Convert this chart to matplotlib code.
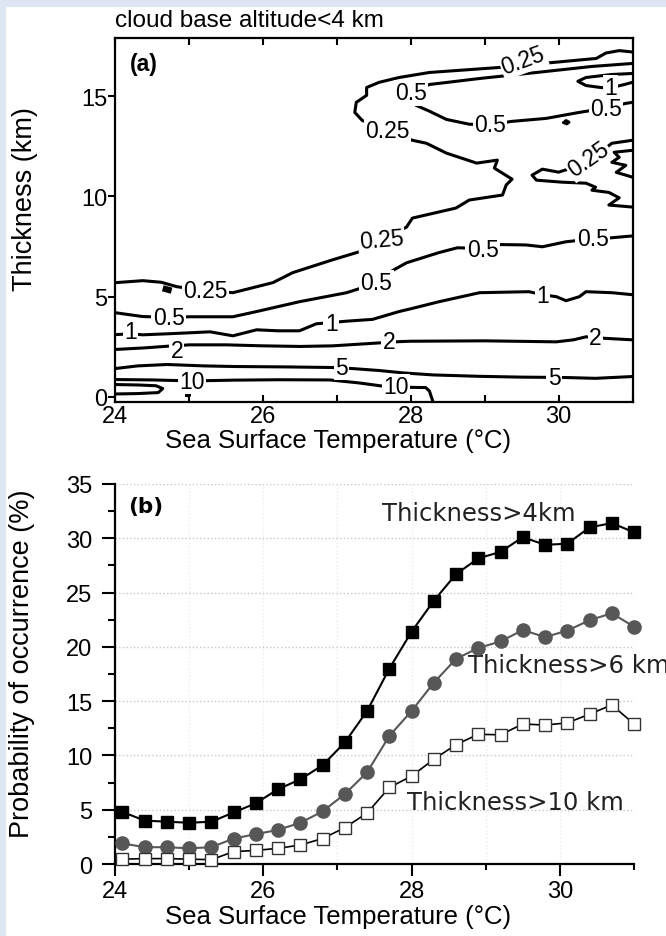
import matplotlib.pyplot as plt
from matplotlib.patches import Rectangle
from matplotlib.ticker import MultipleLocator

# ---------------- panel (a): contour lines ----------------
# each line is a list of (SST in degC, thickness in km)
c10 = [(24.0, 0.87), (24.5, 0.85), (25.04, 0.8), (25.6, 0.84), (26.2, 0.86), (26.9, 0.85),
       (27.3, 0.7), (27.6, 0.55), (27.78, 0.52), (28.0, 0.48), (28.2, 0.47), (28.25, 0.3),
       (28.3, -0.25)]
c20_loop = [(24.0, 0.62), (24.3, 0.6), (24.55, 0.56), (24.64, 0.42), (24.58, 0.22),
            (24.3, 0.17), (24.0, 0.15)]
c20_dot = [(24.96, 0.1), (25.0, 0.1), (25.0, 0.17), (24.96, 0.17), (24.96, 0.1)]
c5 = [(24.0, 1.42), (24.3, 1.55), (24.7, 1.62), (25.2, 1.55), (25.6, 1.52), (26.3, 1.5),
      (26.94, 1.47), (27.2, 1.42), (27.57, 1.32), (27.9, 1.2), (28.3, 1.1), (28.93, 1.03),
      (29.5, 0.99), (29.83, 0.98), (30.1, 0.97), (30.5, 0.93), (30.72, 0.97), (31.0, 1.02)]
c2 = [(24.0, 2.37), (24.4, 2.45), (24.7, 2.53), (25.0, 2.6), (25.5, 2.6), (26.0, 2.55),
      (26.5, 2.52), (26.94, 2.55), (27.5, 2.68), (27.84, 2.76), (28.0, 2.78), (29.0, 2.8),
      (29.97, 2.75), (30.2, 2.85), (30.37, 3.0), (30.6, 2.93), (31.0, 2.85)]
c1 = [(24.0, 3.11), (24.2, 3.15), (24.37, 3.1), (24.7, 3.15), (25.0, 3.2), (25.28, 3.25),
      (25.59, 3.05), (25.91, 3.35), (26.2, 3.3), (26.49, 3.3), (26.72, 3.65), (26.94, 3.72),
      (27.13, 3.78), (27.48, 3.87), (27.84, 4.26), (28.0, 4.4), (28.38, 4.75), (28.93, 5.2),
      (29.6, 5.25), (29.78, 5.1), (29.97, 5.0), (30.1, 4.8), (30.28, 5.0), (30.37, 5.25),
      (30.72, 5.2), (31.0, 5.1)]
c1_top = [(31.0, 16.13), (30.72, 16.08), (30.37, 15.93), (30.26, 15.74), (30.37, 15.53),
          (30.57, 15.43), (30.7, 15.41), (30.89, 15.58), (31.0, 15.69)]
c05 = [(24.0, 4.2), (24.37, 4.01), (24.72, 3.98), (25.01, 4.0), (25.59, 4.0), (25.91, 4.26),
       (26.49, 4.75), (27.13, 5.2), (27.3, 5.4), (27.53, 5.75), (27.75, 6.3), (27.94, 6.69),
       (28.38, 7.2), (28.63, 7.44), (28.97, 7.4), (29.22, 7.6), (29.56, 7.58), (29.78, 7.49),
       (30.1, 7.74), (30.45, 7.88), (30.72, 7.94), (31.0, 8.03)]
c05_top = [(31.0, 16.63), (30.45, 16.48), (29.7, 16.18), (28.93, 15.88), (28.25, 15.58),
           (28.0, 15.2), (28.07, 14.54), (28.25, 14.25), (28.48, 13.84), (28.79, 13.6),
           (29.07, 13.57), (29.36, 13.74), (29.83, 13.89), (30.28, 14.19), (30.64, 14.4),
           (30.91, 14.64), (31.0, 14.69)]
c05_dot = [(30.07, 13.68), (30.11, 13.62), (30.14, 13.7), (30.1, 13.78), (30.07, 13.68)]
c025 = [(24.0, 5.7), (24.37, 5.8), (24.62, 5.72), (24.83, 5.5), (25.22, 5.3), (25.59, 5.2),
        (26.13, 5.7), (26.4, 6.2), (26.94, 6.84), (27.3, 7.24), (27.6, 7.8), (27.94, 8.47),
        (28.02, 8.92), (28.61, 9.42), (28.79, 9.82), (29.24, 10.07), (29.29, 10.57),
        (29.37, 10.86), (29.13, 11.41), (29.17, 11.81), (28.89, 11.66), (28.48, 12.16),
        (28.21, 12.65), (28.02, 12.8), (27.68, 13.27), (27.34, 13.79), (27.24, 14.19),
        (27.26, 14.69), (27.4, 15.04), (27.4, 15.43), (27.57, 15.69), (27.84, 15.93),
        (28.25, 16.18), (29.2, 16.43), (29.52, 16.55), (29.78, 16.63), (30.51, 16.88),
        (30.64, 17.15), (30.82, 17.27), (31.0, 17.2)]
c025_blob = [(24.64, 5.42), (24.76, 5.3)]
c025_right = [(31.0, 12.8), (30.72, 12.65), (30.6, 12.3), (30.4, 11.86), (30.2, 11.45),
              (30.0, 11.21), (29.78, 11.36), (29.64, 11.06), (29.7, 10.81), (30.05, 10.71),
              (30.37, 10.66), (30.5, 10.46), (30.45, 10.31), (30.68, 10.2), (30.82, 9.93),
              (30.68, 9.57), (31.0, 9.47)]
c025_edge = [(31.0, 12.3), (30.75, 12.2), (30.82, 11.95), (30.72, 11.7), (30.91, 11.55),
             (30.78, 11.2), (30.91, 11.06), (31.0, 10.96)]

contour_lines = [c10, c20_loop, c20_dot, c5, c2, c1, c1_top, c05, c05_top, c05_dot,
                 c025, c025_right, c025_edge]

# inline labels: (text, sst, thickness, rotation)
contour_labels = [
    ("10", 25.04, 0.78, 0), ("10", 27.8, 0.52, 0),
    ("5", 27.06, 1.47, 0), ("5", 29.94, 0.98, 0),
    ("2", 24.83, 2.33, 0), ("2", 27.7, 2.76, 0), ("2", 30.5, 2.95, 0),
    ("1", 24.2, 3.25, 0), ("1", 26.92, 3.68, 0), ("1", 29.78, 5.05, 0), ("1", 30.7, 15.41, 0),
    ("0.5", 24.72, 3.97, 0), ("0.5", 27.53, 5.7, 0), ("0.5", 28.97, 7.34, 0),
    ("0.5", 30.46, 7.89, 0), ("0.5", 28.0, 15.16, 0), ("0.5", 29.07, 13.57, 0),
    ("0.5", 30.64, 14.37, 0),
    ("0.25", 25.22, 5.3, 0), ("0.25", 27.6, 7.83, 5), ("0.25", 27.68, 13.27, 0),
    ("0.25", 29.52, 16.78, 20), ("0.25", 30.4, 11.86, 35),
]

# ---------------- panel (b): probability of occurrence (%) ----------------
sst_b = [24.1, 24.4, 24.7, 25.0, 25.3, 25.6, 25.9, 26.2, 26.5, 26.8, 27.1, 27.4,
         27.7, 28.0, 28.3, 28.6, 28.9, 29.2, 29.5, 29.8, 30.1, 30.4, 30.7, 31.0]
p_gt4 = [4.8, 4.0, 3.9, 3.8, 3.9, 4.75, 5.6, 6.9, 7.8, 9.1, 11.2, 14.1,
         18.0, 21.4, 24.25, 26.7, 28.15, 28.75, 30.1, 29.4, 29.5, 31.0, 31.4, 30.55]
p_gt6 = [1.9, 1.55, 1.55, 1.45, 1.55, 2.35, 2.75, 3.15, 3.8, 4.85, 6.45, 8.45,
         11.8, 14.1, 16.7, 18.9, 19.9, 20.5, 21.55, 20.9, 21.5, 22.45, 23.1, 21.85]
p_gt10 = [0.45, 0.5, 0.5, 0.45, 0.4, 1.15, 1.25, 1.45, 1.75, 2.35, 3.35, 4.7,
          7.05, 8.1, 9.65, 11.0, 11.95, 11.9, 12.9, 12.8, 13.0, 13.8, 14.65, 12.9]

ARIAL = "Liberation Sans"
DEJAVU = "DejaVu Sans"
plt.rcParams["font.family"] = ARIAL

fig = plt.figure(figsize=(6.66, 9.37), dpi=100)
fig.patch.set_facecolor("white")
# light blue frame along the top and left edge of the original image
fig.patches.append(Rectangle((0, 1 - 7 / 937), 1, 7 / 937, transform=fig.transFigure,
                             color="#dde6f2", zorder=0))
fig.patches.append(Rectangle((0, 0), 5 / 666, 1, transform=fig.transFigure,
                             color="#dde6f2", zorder=0))

# ---------------- (a) ----------------
ax1 = fig.add_axes([0.1734, 0.5699, 0.7763, 0.3885])
for line in contour_lines:
    xs, ys = zip(*line)
    ax1.plot(xs, ys, color="black", lw=2.2, solid_joinstyle="round",
             solid_capstyle="round", zorder=2)
bx, by = zip(*c025_blob)
ax1.plot(bx, by, color="black", lw=4.5, solid_capstyle="butt", zorder=2)

for txt, x, y, rot in contour_labels:
    ax1.text(x, y, txt, fontsize=16.5, ha="center", va="center", rotation=rot,
             rotation_mode="anchor", zorder=3,
             bbox=dict(boxstyle="square,pad=0.06", fc="white", ec="none"))

ax1.set_xlim(24, 31)
ax1.set_ylim(-0.25, 17.9)
ax1.set_xticks([24, 26, 28, 30])
ax1.xaxis.set_minor_locator(MultipleLocator(1))
ax1.set_yticks([0, 5, 10, 15])
ax1.tick_params(axis="x", which="both", direction="in", top=True, bottom=True,
                length=5, width=1.5, labelsize=17, pad=2.5)
ax1.tick_params(axis="y", which="major", direction="out", length=5, width=1.5,
                labelsize=17, pad=1)
for sp in ax1.spines.values():
    sp.set_linewidth(1.6)
ax1.set_xlabel("Sea Surface Temperature (°C)", fontsize=18.5)
ax1.xaxis.set_label_coords(0.43, -0.072)
ax1.set_ylabel("Thickness (km)", fontsize=19.5)
ax1.yaxis.set_label_coords(-0.15, 0.56)
ax1.text(0.028, 0.93, "(a)", transform=ax1.transAxes, fontsize=16.5, fontweight="bold",
         ha="left", va="center")
fig.text(115 / 666, 1 - 27 / 937, "cloud base altitude<4 km", fontsize=17.5,
         ha="left", va="baseline")

# ---------------- (b) ----------------
ax2 = fig.add_axes([0.1727, 0.0768, 0.7793, 0.4056])
ax2.plot(sst_b, p_gt4, color="black", lw=1.5, marker="s", ms=8.5, mfc="black",
         mec="black", clip_on=False, zorder=3)
ax2.plot(sst_b, p_gt6, color="#575757", lw=1.5, marker="o", ms=9.5, mfc="#575757",
         mec="#575757", clip_on=False, zorder=4)
ax2.plot(sst_b, p_gt10, color="black", lw=1.2, marker="s", ms=8.5, mfc="white",
         mec="#333333", mew=1.0, clip_on=False, zorder=5)

ax2.text(27.6, 32.3, "Thickness>4km", family=DEJAVU, fontsize=17.5, color="#222222",
         ha="left", va="center")
ax2.text(28.76, 18.3, "Thickness>6 km", family=DEJAVU, fontsize=17.5, color="#222222",
         ha="left", va="center")
ax2.text(27.94, 5.7, "Thickness>10 km", family=DEJAVU, fontsize=17.5, color="#222222",
         ha="left", va="center")
ax2.text(0.025, 0.942, "(b)", transform=ax2.transAxes, family=DEJAVU, fontsize=15.5,
         fontweight="bold", ha="left", va="center")

ax2.set_xlim(24, 31)
ax2.set_ylim(0, 35)
ax2.xaxis.set_major_locator(MultipleLocator(2))
ax2.xaxis.set_minor_locator(MultipleLocator(1))
ax2.yaxis.set_major_locator(MultipleLocator(5))
ax2.yaxis.set_minor_locator(MultipleLocator(2.5))
ax2.tick_params(axis="x", which="major", direction="out", length=8.5, width=1.5,
                labelsize=17, pad=3)
ax2.tick_params(axis="x", which="minor", direction="out", length=4.5, width=1.5)
ax2.tick_params(axis="y", which="major", direction="out", length=9.5, width=1.5,
                labelsize=17, pad=7)
ax2.tick_params(axis="y", which="minor", direction="out", length=5, width=1.5)
ax2.spines["top"].set_visible(False)
ax2.spines["right"].set_visible(False)
ax2.spines["left"].set_linewidth(1.6)
ax2.spines["bottom"].set_linewidth(1.6)
ax2.grid(which="major", axis="y", ls=":", color="#c8c8c8", lw=1.0)
ax2.grid(which="both", axis="x", ls=":", color="#ececec", lw=1.0)
ax2.set_axisbelow(True)
ax2.set_xlabel("Sea Surface Temperature (°C)", fontsize=18.5)
ax2.xaxis.set_label_coords(0.43, -0.105)
ax2.set_ylabel("Probability of occurrence (%)", fontsize=19.5)
ax2.yaxis.set_label_coords(-0.155, 0.53)

fig.savefig("out.png", dpi=100, facecolor="white")
